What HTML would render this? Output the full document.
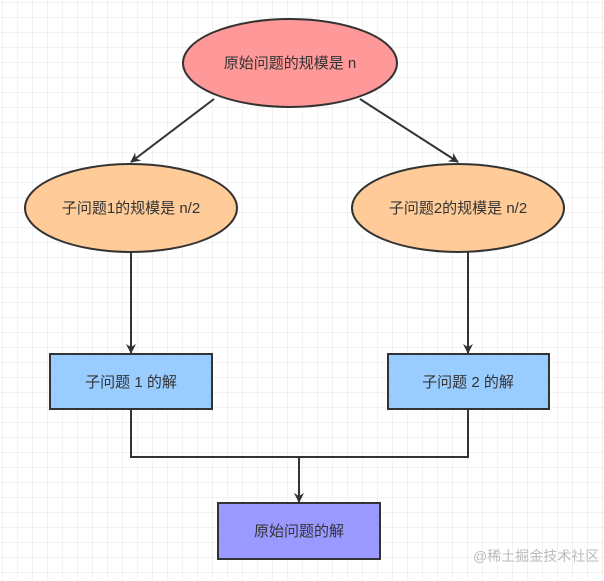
<!DOCTYPE html>
<html><head><meta charset="utf-8"><style>
html,body{margin:0;padding:0;background:#fff}
svg{display:block}
text{font-family:"Liberation Sans","Noto Sans CJK SC",sans-serif;font-size:15px;fill:#333}
</style></head><body>
<svg width="604" height="581" viewBox="0 0 604 581" xmlns="http://www.w3.org/2000/svg">
<defs>
<pattern id="g" width="15" height="15" patternUnits="userSpaceOnUse" x="2" y="2">
<path d="M15 0H0V15" fill="none" stroke="#e6e6e6" stroke-width="1"/>
</pattern>
<marker id="a" markerWidth="10" markerHeight="10" refX="9" refY="5" orient="auto" markerUnits="userSpaceOnUse">
<path d="M0,0 L10,5 L0,10 L3,5 z" fill="#333"/>
</marker>
</defs>
<rect width="604" height="581" fill="url(#g)"/>
<g stroke="#333" stroke-width="2" fill="none">
<line x1="214" y1="99" x2="131" y2="162" marker-end="url(#a)"/>
<line x1="360" y1="99" x2="458" y2="162" marker-end="url(#a)"/>
<line x1="131" y1="252" x2="131" y2="353" marker-end="url(#a)"/>
<line x1="468" y1="252" x2="468" y2="353" marker-end="url(#a)"/>
<polyline points="131,409 131,457 468,457 468,409"/>
<line x1="299" y1="457" x2="299" y2="502" marker-end="url(#a)"/>
</g>
<g stroke="#333" stroke-width="2">
<ellipse cx="290" cy="63" rx="107" ry="44" fill="#ff9999"/>
<ellipse cx="131" cy="208" rx="106" ry="44" fill="#ffcc99"/>
<ellipse cx="458" cy="208" rx="106" ry="44" fill="#ffcc99"/>
<rect x="50" y="354" width="162" height="55" fill="#99ccff"/>
<rect x="388" y="354" width="161" height="55" fill="#99ccff"/>
<rect x="218" y="503" width="162" height="56" fill="#9999ff"/>
</g>
<g text-anchor="middle">
<text x="290" y="68">原始问题的规模是 n</text>
<text x="131" y="213">子问题1的规模是 n/2</text>
<text x="458" y="213">子问题2的规模是 n/2</text>
<text x="131" y="387">子问题 1 的解</text>
<text x="468" y="387">子问题 2 的解</text>
<text x="299" y="536">原始问题的解</text>
</g>
<text x="473" y="561" style="font-size:14px;fill:#bbb">@稀土掘金技术社区</text>
</svg>
</body></html>
